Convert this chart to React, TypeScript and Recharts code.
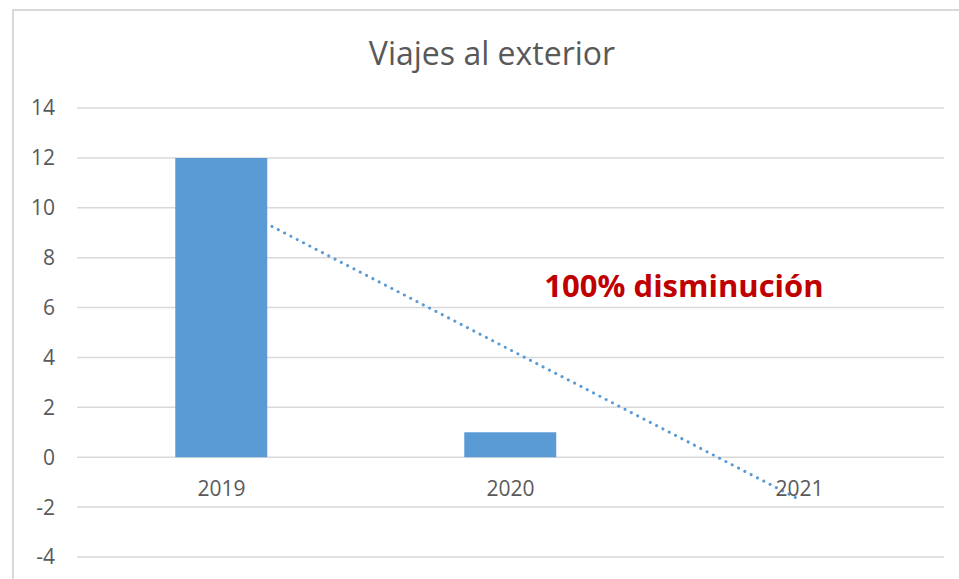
import { Bar, CartesianGrid, ComposedChart, Line, ReferenceDot, XAxis, YAxis } from "recharts";

const years = ["2019", "2020", "2021"];
const trips = [12, 1, 0];
// dotted linear trendline
const trend = [10.3, 4.3, -1.7];
const yTicks = [-4, -2, 0, 2, 4, 6, 8, 10, 12, 14];

const data = years.map((year, i) => ({ year, trips: trips[i], trend: trend[i] }));

const gray = "#595959";
const font = "'Open Sans', sans-serif";

// category labels sit under the zero line, like Excel's "next to axis"
function yearLabel(text: string) {
  return (props: any) => {
    const { viewBox } = props;
    return (
      <text
        x={viewBox.x + viewBox.width / 2}
        y={viewBox.y + viewBox.height / 2 + 39}
        textAnchor="middle"
        fill={gray}
        fontSize={21}
        fontFamily={font}
      >
        {text}
      </text>
    );
  };
}

export default function App() {
  return (
    <div style={{ position: "absolute", left: 0, top: 0, width: 959, height: 579, background: "#fff", overflow: "hidden" }}>
      <div
        style={{
          position: "absolute",
          left: 12,
          top: 9,
          width: 1000,
          height: 600,
          borderLeft: "2px solid #d9d9d9",
          borderTop: "2px solid #d9d9d9",
        }}
      />
      <div style={{ position: "absolute", left: 0, top: 0 }}>
        <ComposedChart
          width={959}
          height={579}
          data={data}
          margin={{ top: 108, right: 15, bottom: 22, left: 0 }}
          barCategoryGap="34%"
        >
          <CartesianGrid vertical={false} stroke="#d9d9d9" strokeWidth={1.5} />
          <XAxis dataKey="year" hide />
          <YAxis
            width={77}
            domain={[-4, 14]}
            ticks={yTicks}
            axisLine={false}
            tickLine={false}
            tickSize={0}
            tickMargin={22}
            tick={{ fill: gray, fontSize: 21, fontFamily: font }}
          />
          <Line
            dataKey="trend"
            stroke="#5b9bd5"
            strokeWidth={3}
            strokeDasharray="0.1 7"
            strokeLinecap="round"
            dot={false}
            activeDot={false}
            isAnimationActive={false}
            zIndex={100}
          />
          <Bar dataKey="trips" fill="#5b9bd5" isAnimationActive={false} />
          {years.map((y) => (
            <ReferenceDot key={y} x={y} y={0} r={0} stroke="none" fill="none" label={yearLabel(y)} />
          ))}
        </ComposedChart>
      </div>
      <svg width={959} height={579} style={{ position: "absolute", left: 0, top: 0, pointerEvents: "none" }}>
        <text x={492} y={65} textAnchor="middle" fill={gray} fontSize={32} fontFamily={font}>
          Viajes al exterior
        </text>
        <text x={684} y={297} textAnchor="middle" fill="#c00000" fontSize={31} fontWeight={700} fontFamily={font}>
          100% disminución
        </text>
      </svg>
    </div>
  );
}
